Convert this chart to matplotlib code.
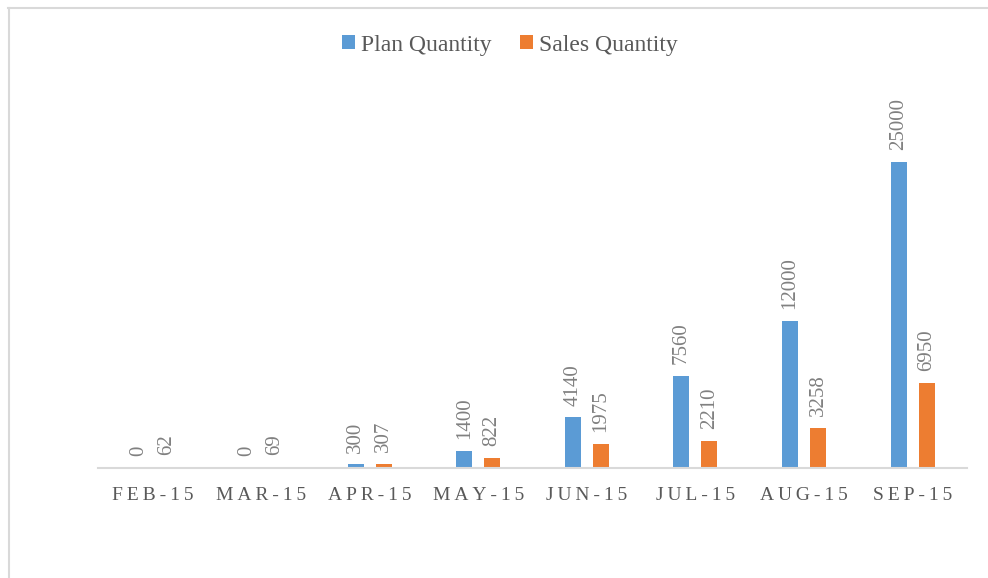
import matplotlib
matplotlib.use("Agg")
import matplotlib.pyplot as plt
from matplotlib.lines import Line2D
import numpy as np

categories = ["FEB-15", "MAR-15", "APR-15", "MAY-15", "JUN-15", "JUL-15", "AUG-15", "SEP-15"]
plan_qty = [0, 0, 300, 1400, 4140, 7560, 12000, 25000]
sales_qty = [62, 69, 307, 822, 1975, 2210, 3258, 6950]
series_names = ["Plan Quantity", "Sales Quantity"]

BLUE = "#5B9BD5"
ORANGE = "#ED7D31"
serif = ["Liberation Serif", "DejaVu Serif"]

fig = plt.figure(figsize=(9.88, 5.78), dpi=100)
fig.patch.set_facecolor("white")

# outer border lines (top and left)
fig.add_artist(Line2D([8 / 988, 1], [1 - 7.5 / 578, 1 - 7.5 / 578], color="#D9D9D9", lw=1.5))
fig.add_artist(Line2D([8.5 / 988, 8.5 / 988], [0, 1 - 7.5 / 578], color="#D9D9D9", lw=1.5))

left, right = 98 / 988, 967 / 988
bottom_px, top_px = 468, 101
ax = fig.add_axes([left, 1 - bottom_px / 578, right - left, (bottom_px - top_px) / 578])

x = np.arange(len(categories))
w = 0.147
off = 0.129
b1 = ax.bar(x - off, plan_qty, w, color=BLUE, label=series_names[0])
b2 = ax.bar(x + off, sales_qty, w, color=ORANGE, label=series_names[1])

ax.set_xlim(-0.5, len(categories) - 0.5)
ax.set_ylim(0, 30000)

for bars, vals in ((b1, plan_qty), (b2, sales_qty)):
    for r, v in zip(bars, vals):
        ax.annotate(str(v), (r.get_x() + r.get_width() / 2, v), xytext=(0, 8.5),
                    textcoords="offset points", rotation=90, ha="center", va="bottom",
                    fontsize=15, color="#808080", family=serif)

for s in ["top", "right", "left"]:
    ax.spines[s].set_visible(False)
ax.spines["bottom"].set_color("#D9D9D9")
ax.spines["bottom"].set_linewidth(1.5)
ax.set_yticks([])
ax.set_xticks(x)
ax.set_xticklabels(["\u2009".join(c) for c in categories], fontsize=14, color="#595959", family=serif)
ax.tick_params(axis="x", length=0, pad=14)

leg = fig.legend(handles=[b1, b2], labels=series_names, loc="center", bbox_to_anchor=(0.5157, 1 - 45 / 578),
                 ncol=2, frameon=False, prop={"family": serif, "size": 17}, handlelength=0.55,
                 handleheight=0.55, handletextpad=0.25, columnspacing=1.2)
for t in leg.get_texts():
    t.set_color("#595959")

fig.savefig("out.png", dpi=100, facecolor="white")
